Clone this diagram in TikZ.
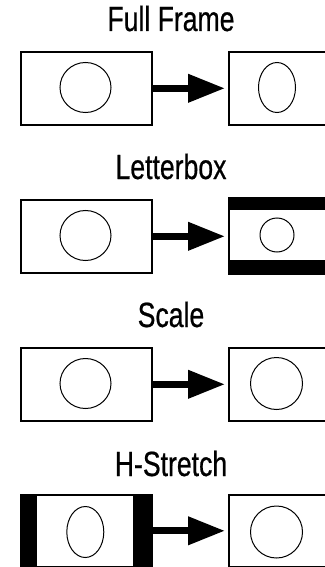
\documentclass[tikz,border=0pt]{standalone}
\usepackage{fontspec}
\setmainfont{Liberation Sans}
\newfontfamily\titlefont[FakeStretch=0.76,FakeBold=0.6]{Liberation Sans}
\usetikzlibrary{arrows.meta,shapes.geometric}
\begin{document}
\begin{tikzpicture}[x=1pt,y=-1pt,
  frame/.style={draw, line width=1.6pt, minimum width=131pt, minimum height=73pt, inner sep=0pt, anchor=north west},
  rframe/.style={frame, minimum width=98pt},
  disc/.style={draw, ellipse, line width=1pt, inner sep=0pt},
  title/.style={font=\titlefont\fontsize{35}{42}\selectfont, anchor=base, inner sep=0pt},
  bigarrow/.style={line width=7pt, -{Triangle[length=37pt,width=27pt]}, shorten >=3pt},
  bar/.style={fill=black}
]
\useasboundingbox (0,0) rectangle (324,567);

% Row 1: Full Frame
\node[title] (t1) at (171,31) {Full Frame};
\node[frame] (L1) at (20,51) {};
\node[rframe] (R1) at (228,51) {};
\node[disc, minimum width=51pt, minimum height=50pt] (c1) at (85.5,87.5) {};
\node[disc, minimum width=37pt, minimum height=50pt] (e1) at (277,87.5) {};
\draw[bigarrow] (L1.east) -- (L1.east -| R1.west);

% Row 2: Letterbox
\node[title] (t2) at (171,179) {Letterbox};
\node[frame] (L2) at (20,199) {};
\node[rframe, minimum height=76pt] (R2) at (228,197) {};
\fill[bar] (228,197) rectangle (326,210);
\fill[bar] (228,260) rectangle (326,273);
\node[disc, minimum width=51pt, minimum height=50pt] (c2) at (85.5,235.5) {};
\node[disc, minimum width=34pt, minimum height=34pt] (e2) at (277,235) {};
\draw[bigarrow] (L2.east) -- (L2.east -| R2.west);

% Row 3: Scale
\node[title] (t3) at (171,327) {Scale};
\node[frame] (L3) at (20,347) {};
\node[rframe] (R3) at (228,347) {};
\node[disc, minimum width=51pt, minimum height=50pt] (c3) at (85.5,383.5) {};
\node[disc, minimum width=52pt, minimum height=52pt] (e3) at (276.5,383.5) {};
\draw[bigarrow] (L3.east) -- (L3.east -| R3.west);

% Row 4: H-Stretch
\node[title] (t4) at (171,476) {H-Stretch};
\node[frame, minimum height=72pt] (L4) at (20,494) {};
\node[rframe, minimum height=72pt] (R4) at (228,494) {};
\fill[bar] (20,494) rectangle (37,566);
\fill[bar] (133,494) rectangle (152,566);
\node[disc, minimum width=37pt, minimum height=51pt] (c4) at (85.3,532) {};
\node[disc, minimum width=52pt, minimum height=52pt] (e4) at (276.5,532) {};
\draw[bigarrow] (L4.east) -- (L4.east -| R4.west);
\end{tikzpicture}
\end{document}
